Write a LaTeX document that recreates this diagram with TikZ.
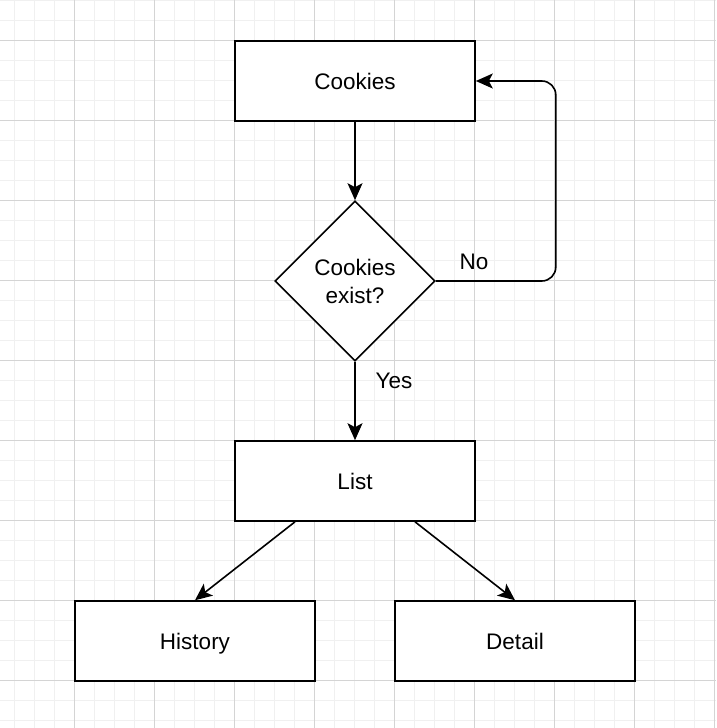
\documentclass[tikz,border=0pt]{standalone}
\usepackage{fontspec}
\setmainfont{Liberation Sans}
\usepackage{xcolor}
\usetikzlibrary{arrows.meta, positioning, shapes.geometric}
\definecolor{gridMinor}{RGB}{240,240,240}
\definecolor{gridMajor}{RGB}{212,212,212}

\begin{document}
\begin{tikzpicture}[
  x=1pt, y=-1pt,
  box/.style={rectangle, draw, line width=1.6pt, fill=white,
              minimum height=80pt, minimum width=240pt, inner sep=0pt,
              text height=16pt, text depth=0pt,
              font=\fontsize{22.5}{28}\selectfont, align=center},
  decision/.style={diamond, draw, line width=1.6pt, fill=white, aspect=1,
              minimum size=160pt, inner sep=0pt,
              font=\fontsize{22.5}{28}\selectfont, align=center},
  lbl/.style={font=\fontsize{22.5}{28}\selectfont},
  arrow/.style={-{Stealth[length=17pt, width=15pt, inset=4pt]}, line width=1.6pt}
]
\useasboundingbox (0,0) rectangle (716,728);
% Grid
\foreach \x in {14,34,...,714} \draw[gridMinor, line width=1pt] (\x,0) -- (\x,728);
\foreach \y in {0,20,...,720} \draw[gridMinor, line width=1pt] (0,\y) -- (716,\y);
\foreach \x in {74,154,...,714} \draw[gridMajor, line width=1pt] (\x,0) -- (\x,728);
\foreach \y in {40,120,...,680} \draw[gridMajor, line width=1pt] (0,\y) -- (716,\y);

% Cookies
\node[box] (cookies) at (355,81) {Cookies};
% Check
\node[decision] (check) at (355,281) {Cookies\\exist?};
% List
\node[box] (list) at (355,481) {List};
% History and Detail
\node[box] (history) at (195,641) {History};
\node[box] (detail) at (515,641) {Detail};

\draw[arrow] (cookies) -- (check);
\draw[arrow] (check) -- (list);
\draw[arrow, rounded corners=14pt] (check.east) -- ++(120,0) |- (cookies.east);
\draw[arrow] (list.south -| 295,0) -- (history.north);
\draw[arrow] (list.south -| 415,0) -- (detail.north);

% Labels
\node[lbl] (no) at (474,262) {No};
\node[lbl] (yes) at (394,381) {Yes};

\end{tikzpicture}
\end{document}
